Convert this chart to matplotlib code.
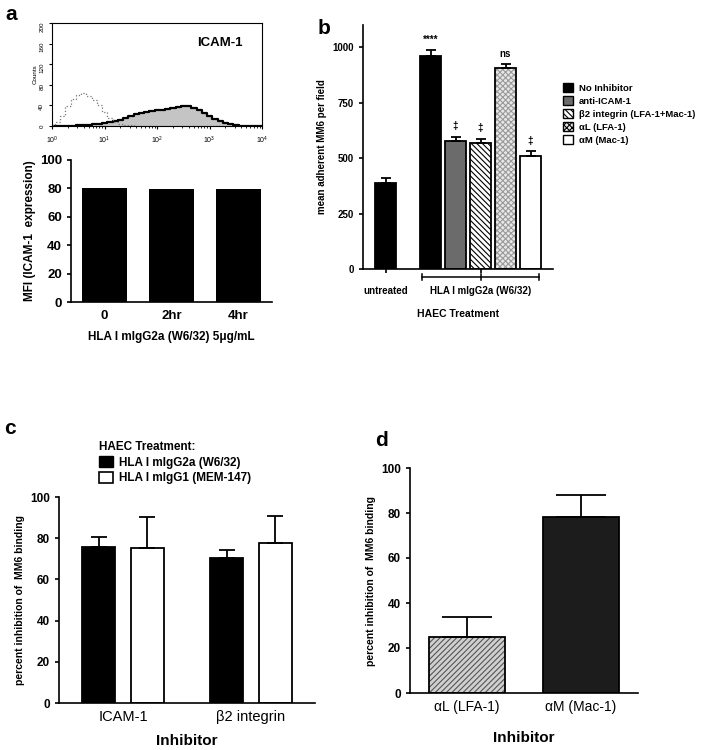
import matplotlib
matplotlib.use("Agg")
import matplotlib.pyplot as plt
import numpy as np
from matplotlib.patches import Patch

plt.rcParams['font.family'] = ['Liberation Sans', 'DejaVu Sans']
plt.rcParams['hatch.linewidth'] = 0.8

# --- DADOS ---
# painel a: histograma (log10 da fluorescência -> contagens)
hist_log = [0.0, 0.1, 0.2, 0.3, 0.4, 0.5, 0.6, 0.7, 0.8, 0.9, 1.0, 1.1, 1.2, 1.3, 1.4,
            1.5, 1.6, 1.7, 1.8, 1.9, 2.0, 2.1, 2.2, 2.3, 2.4, 2.5, 2.6, 2.7, 2.8, 2.9,
            3.0, 3.1, 3.2, 3.3, 3.4, 3.5, 3.6, 3.7, 3.8, 3.9, 4.0]
isotipo = [2, 8, 20, 38, 52, 60, 64, 58, 50, 40, 28, 15, 8, 4, 2,
           1, 0, 0, 0, 0, 0, 0, 0, 0, 0, 0, 0, 0, 0, 0,
           0, 0, 0, 0, 0, 0, 0, 0, 0, 0, 0]
icam_corado = [0, 0, 0, 0, 0, 1, 1, 2, 3, 4, 5, 7, 9, 12, 15,
               19, 23, 26, 28, 30, 31, 32, 33, 35, 37, 39, 38, 35, 31, 26,
               20, 14, 9, 5, 3, 1, 0, 0, 0, 0, 0]

# painel a: barras MFI
tempos = ['0', '2hr', '4hr']
mfi = [80.5, 79.5, 79.5]

# painel b
b_grupos = ['untreated', 'No Inhibitor', 'anti-ICAM-1', 'β2 integrin (LFA-1+Mac-1)',
            'αL (LFA-1)', 'αM (Mac-1)']
b_valores = [388, 958, 575, 568, 904, 508]
b_erros = [24, 28, 22, 20, 18, 22]
b_marcas = ['', '****', '‡', '‡', 'ns', '‡']

# painel c
c_inibidores = ['ICAM-1', 'β2 integrin']
c_w632 = [75.7, 70.4]
c_w632_err = [4.8, 4.0]
c_mem147 = [75.2, 77.7]
c_mem147_err = [15.0, 13.0]

# painel d
d_inibidores = ['αL (LFA-1)', 'αM (Mac-1)']
d_valores = [25.0, 78.3]
d_erros = [8.7, 9.8]

W, H = 703, 750
fig = plt.figure(figsize=(W / 100, H / 100), dpi=100)


def eixo(x0, y0, x1, y1):
    # coordenadas em pixels (origem no topo)
    return fig.add_axes([x0 / W, 1 - y1 / H, (x1 - x0) / W, (y1 - y0) / H])


def estilo_prism(ax, lw=1.2):
    ax.spines['top'].set_visible(False)
    ax.spines['right'].set_visible(False)
    ax.spines['left'].set_linewidth(lw)
    ax.spines['bottom'].set_linewidth(lw)
    ax.tick_params(direction='out', length=3, width=lw)


# ---------------- painel a (histograma) ----------------
axh = eixo(52, 23, 262, 126)
xs = 10 ** np.array(hist_log)
axh.fill_between(xs, icam_corado, color='#c4c4c4', step='mid', lw=0)
axh.step(xs, icam_corado, where='mid', color='black', lw=1.6)
axh.step(xs, isotipo, where='mid', color='#777777', lw=0.9, ls=':')
axh.set_xscale('log')
axh.set_xlim(1, 1e4)
axh.set_ylim(0, 200)
axh.set_yticks([0, 40, 80, 120, 160, 200])
axh.tick_params(axis='y', labelsize=4.5, labelrotation=90, length=2)
axh.tick_params(axis='x', labelsize=5, length=2.5, which='major')
axh.tick_params(axis='x', which='minor', length=1.5)
axh.set_ylabel('Counts', fontsize=4.5, labelpad=1)
for s in axh.spines.values():
    s.set_linewidth(0.8)
axh.text(0.69, 0.78, 'ICAM-1', transform=axh.transAxes, fontsize=9.5,
         fontweight='bold')

# ---------------- painel a (barras) ----------------
axa = eixo(71, 160, 272, 302)
estilo_prism(axa)
axa.bar(range(len(tempos)), mfi, width=0.67, color='black')
axa.set_xlim(-0.5, 2.5)
axa.set_ylim(0, 100)
axa.set_yticks([0, 20, 40, 60, 80, 100])
axa.set_xticks(range(len(tempos)))
axa.set_xticklabels(tempos, fontsize=9.5, fontweight='bold')
axa.tick_params(axis='x', length=0, pad=6)
for t in axa.get_yticklabels():
    t.set_fontsize(9.5)
    t.set_fontweight('bold')
axa.set_ylabel('MFI (ICAM-1  expression)', fontsize=8.5, fontweight='bold', labelpad=3)
axa.set_xlabel('HLA I mIgG2a (W6/32) 5μg/mL', fontsize=8.5, fontweight='bold', labelpad=6)

# ---------------- painel b ----------------
axb = eixo(363, 25, 553, 269)
estilo_prism(axb)
pos_b = [0, 1.8, 2.8, 3.8, 4.8, 5.8]
cores_b = ['black', 'black', '#6b6b6b', 'white', '#e8e8e8', 'white']
hatch_b = [None, None, None, '\\\\\\\\\\\\', 'xxxxxx', None]
hcor_b = [None, None, None, 'black', '#9a9a9a', None]
for p, v, c, h, hc in zip(pos_b, b_valores, cores_b, hatch_b, hcor_b):
    if h:
        axb.bar(p, v, width=0.82, color=c, hatch=h, edgecolor=hc, lw=0)
        axb.bar(p, v, width=0.82, fill=False, edgecolor='black', lw=1.3)
    else:
        axb.bar(p, v, width=0.82, color=c, edgecolor='black', lw=1.3)
axb.errorbar(pos_b, b_valores, yerr=[np.zeros(len(b_erros)), b_erros], fmt='none',
             ecolor='black', elinewidth=1.3, capsize=3.5, capthick=1.3)
for p, v, e, m in zip(pos_b, b_valores, b_erros, b_marcas):
    if m:
        axb.text(p, v + e + 25, m, ha='center', va='bottom', fontsize=7,
                 fontweight='bold')
axb.set_xlim(-0.9, 6.7)
axb.set_ylim(0, 1100)
axb.set_yticks([0, 250, 500, 750, 1000])
for t in axb.get_yticklabels():
    t.set_fontsize(7)
    t.set_fontweight('bold')
axb.set_xticks([0, 3.8])
axb.set_xticklabels([])
axb.set_ylabel('mean adherent MM6 per field', fontsize=7, fontweight='bold', labelpad=4)
tr = axb.get_xaxis_transform()
# colchete sob os tratamentos
yb = -0.033
axb.plot([1.45, 6.15], [yb, yb], color='black', lw=1.1, transform=tr, clip_on=False)
for xb in [1.45, 3.8, 6.15]:
    axb.plot([xb, xb], [yb - 0.012, yb + 0.012], color='black', lw=1.1,
             transform=tr, clip_on=False)
axb.text(0, -0.07, 'untreated', transform=tr, ha='center', va='top', fontsize=7,
         fontweight='bold')
axb.text(3.8, -0.07, 'HLA I mIgG2a (W6/32)', transform=tr, ha='center', va='top',
         fontsize=7, fontweight='bold')
axb.text(2.9, -0.165, 'HAEC Treatment', transform=tr, ha='center', va='top',
         fontsize=7.5, fontweight='bold')

handles_b = [Patch(facecolor='black', edgecolor='black'),
             Patch(facecolor='#6b6b6b', edgecolor='black'),
             Patch(facecolor='white', edgecolor='black', hatch='\\\\\\\\\\\\'),
             Patch(facecolor='#e8e8e8', edgecolor='black', hatch='xxxxxx'),
             Patch(facecolor='white', edgecolor='black')]
legb = fig.legend(handles_b, b_grupos[1:], loc='upper left',
                  bbox_to_anchor=(559 / W, 1 - 79 / H), frameon=False,
                  prop={'size': 6.8, 'weight': 'bold'}, handlelength=1.1,
                  handleheight=1.1, handletextpad=0.6, labelspacing=0.35,
                  borderaxespad=0)

# ---------------- painel c ----------------
axc = eixo(59, 497, 315, 703)
estilo_prism(axc)
xc = np.arange(len(c_inibidores))
dc = 0.19
axc.bar(xc - dc, c_w632, width=0.26, color='black', edgecolor='black', lw=1.3)
axc.bar(xc + dc, c_mem147, width=0.26, color='white', edgecolor='black', lw=1.3)
axc.errorbar(xc - dc, c_w632, yerr=[[0, 0], c_w632_err], fmt='none', ecolor='black',
             elinewidth=1.3, capsize=6, capthick=1.3)
axc.errorbar(xc + dc, c_mem147, yerr=[[0, 0], c_mem147_err], fmt='none',
             ecolor='black', elinewidth=1.3, capsize=6, capthick=1.3)
axc.set_xlim(-0.5, 1.5)
axc.set_ylim(0, 100)
axc.set_yticks([0, 20, 40, 60, 80, 100])
for t in axc.get_yticklabels():
    t.set_fontsize(8.5)
    t.set_fontweight('bold')
axc.set_xticks(xc)
axc.set_xticklabels(c_inibidores, fontsize=10.5)
axc.tick_params(axis='x', length=0, pad=5)
axc.set_ylabel('percent inhibition of  MM6 binding', fontsize=7.5, fontweight='bold',
               labelpad=4)
axc.set_xlabel('Inhibitor', fontsize=11, fontweight='bold', labelpad=7)
handles_c = [Patch(facecolor='black', edgecolor='black'),
             Patch(facecolor='white', edgecolor='black', lw=1.2)]
legc = fig.legend(handles_c, ['HLA I mIgG2a (W6/32)', 'HLA I mIgG1 (MEM-147)'],
                  title='HAEC Treatment:', loc='upper left',
                  bbox_to_anchor=(94 / W, 1 - 436 / H), frameon=False,
                  prop={'size': 8.5, 'weight': 'bold'}, handlelength=1.2,
                  handleheight=1.0, handletextpad=0.5, labelspacing=0.3,
                  borderaxespad=0)
legc.get_title().set_fontsize(8.5)
legc.get_title().set_fontweight('bold')
legc._legend_box.align = 'left'

# ---------------- painel d ----------------
axd = eixo(410, 468, 638, 693)
estilo_prism(axd)
xd = np.arange(len(d_inibidores))
axd.bar(xd[0], d_valores[0], width=0.67, color='#d0d0d0', hatch='//////',
        edgecolor='#555555', lw=0)
axd.bar(xd[0], d_valores[0], width=0.67, fill=False, edgecolor='black', lw=1.3)
axd.bar(xd[1], d_valores[1], width=0.67, color='#1c1c1c', edgecolor='black', lw=1.3)
axd.errorbar(xd, d_valores, yerr=[[0, 0], d_erros], fmt='none', ecolor='black',
             elinewidth=1.3, capsize=18, capthick=1.3)
axd.set_xlim(-0.5, 1.5)
axd.set_ylim(0, 100)
axd.set_yticks([0, 20, 40, 60, 80, 100])
for t in axd.get_yticklabels():
    t.set_fontsize(8.5)
    t.set_fontweight('bold')
axd.set_xticks(xd)
axd.set_xticklabels(d_inibidores, fontsize=10)
axd.tick_params(axis='x', length=0, pad=5)
axd.set_ylabel('percent inhibition of  MM6 binding', fontsize=7.5, fontweight='bold',
               labelpad=4)
axd.set_xlabel('Inhibitor', fontsize=11, fontweight='bold', labelpad=12)

# rótulos dos painéis
fig.text(5 / W, 1 - 15 / H, 'a', fontsize=15, fontweight='bold', va='center')
fig.text(318 / W, 1 - 28 / H, 'b', fontsize=15, fontweight='bold', va='center')
fig.text(4 / W, 1 - 428 / H, 'c', fontsize=15, fontweight='bold', va='center')
fig.text(375 / W, 1 - 440 / H, 'd', fontsize=15, fontweight='bold', va='center')

fig.savefig('out.png', dpi=100)
